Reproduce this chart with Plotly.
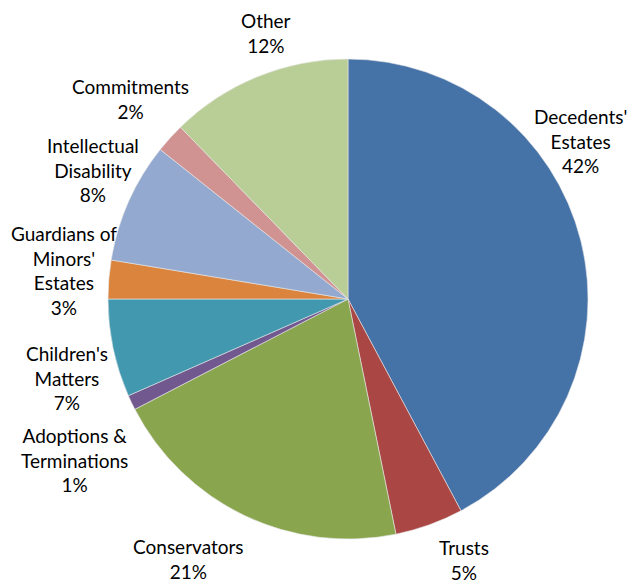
import plotly.graph_objects as go

categories = ["Decedents' Estates", "Trusts", "Conservators", "Adoptions & Terminations",
              "Children's Matters", "Guardians of Minors' Estates", "Intellectual Disability",
              "Commitments", "Other"]
display_labels = ["Decedents'<br>Estates", "Trusts", "Conservators", "Adoptions &<br>Terminations",
                  "Children's<br>Matters", "Guardians of<br>Minors'<br>Estates", "Intellectual<br>Disability",
                  "Commitments", "Other"]
values = [42.2, 4.6, 20.6, 1.0, 6.6, 2.6, 8.1, 2.0, 12.3]
colors = ["#4572A7", "#AA4643", "#89A54E", "#71588F", "#4198AF", "#DB843D", "#93A9CF", "#D19392", "#B9CD96"]

# label block centres in pixels (layout only)
label_pos = [(580, 141), (464, 560), (188, 559), (74, 460), (67, 378),
             (64, 270), (93, 170), (130, 99), (266, 33)]

W, H = 631, 583
fig = go.Figure(go.Pie(
    labels=categories,
    values=values,
    textinfo="none",
    marker=dict(colors=colors, line=dict(color="#E8E8E8", width=0.6)),
    sort=False,
    direction="clockwise",
    rotation=0,
    showlegend=False,
    domain=dict(x=[108/W, 588/W], y=[1-539/H, 1-59/H]),
    automargin=False,
))

total = sum(values)
for lab, v, (px, py) in zip(display_labels, values, label_pos):
    fig.add_annotation(
        x=px/W, y=1-py/H, xref="paper", yref="paper",
        text=f"{lab}<br>{round(v/total*100)}%",
        showarrow=False, xanchor="center", yanchor="middle", align="center",
        font=dict(family="Lato, Open Sans, sans-serif", size=19, color="#000000"),
    )

fig.update_layout(
    width=W, height=H,
    margin=dict(l=0, r=0, t=0, b=0),
    paper_bgcolor="white", plot_bgcolor="white",
)
fig.write_html("out.html")
